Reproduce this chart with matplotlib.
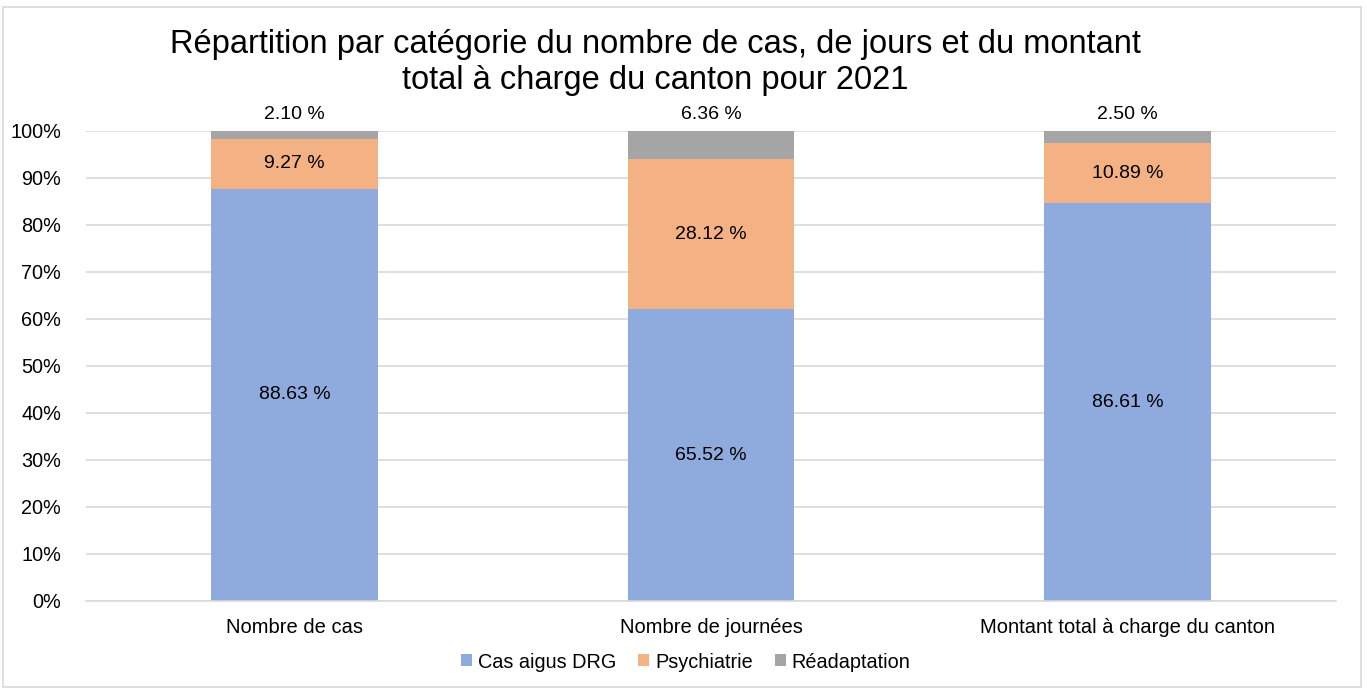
import numpy as np
import matplotlib.pyplot as plt
from matplotlib.patches import Rectangle

plt.rcParams['font.family'] = ['Liberation Sans', 'DejaVu Sans']

# donnees
categories = ['Nombre de cas', 'Nombre de journées', 'Montant total à charge du canton']
series = ['Cas aigus DRG', 'Psychiatrie', 'Réadaptation']
# hauteurs des segments
aigus = [87.66, 62.06, 84.60]
psy = [10.54, 31.94, 12.80]
readapt = [1.80, 6.00, 2.60]
# valeurs affichees dans les etiquettes
lab_aigus = [88.63, 65.52, 86.61]
lab_psy = [9.27, 28.12, 10.89]
lab_readapt = [2.10, 6.36, 2.50]

colors = ['#8FAADC', '#F4B183', '#A5A5A5']

fig = plt.figure(figsize=(13.67, 6.89), dpi=100)
ax = fig.add_axes([86/1367, 1-601/689, 1250/1367, (601-130.7)/689])

x = np.arange(len(categories))
w = 0.40
ax.bar(x, aigus, w, color=colors[0], label=series[0], zorder=2)
ax.bar(x, psy, w, bottom=aigus, color=colors[1], label=series[1], zorder=2)
bot3 = np.array(aigus) + np.array(psy)
ax.bar(x, readapt, w, bottom=bot3, color=colors[2], label=series[2], zorder=2)

#etiquettes
for i in range(len(categories)):
    ax.text(x[i], aigus[i]/2, '%.2f %%' % lab_aigus[i], ha='center', va='center', fontsize=14)
    ax.text(x[i], aigus[i] + psy[i]/2, '%.2f %%' % lab_psy[i], ha='center', va='center', fontsize=14)
    ax.text(x[i], 103.4, '%.2f %%' % lab_readapt[i], ha='center', va='center', fontsize=14)

ax.set_xlim(-0.5, 2.5)
ax.set_ylim(0, 100)
ax.set_yticks(range(0, 101, 10))
ax.set_yticklabels(['%d%%' % v for v in range(0, 101, 10)], fontsize=14.3)
ax.set_xticks(x)
ax.set_xticklabels(categories, fontsize=14.5)
ax.tick_params(axis='both', length=0, colors='#000000')
ax.tick_params(axis='x', pad=12)
ax.tick_params(axis='y', pad=18)
ax.yaxis.grid(True, color='#D9D9D9', linewidth=1.2, zorder=0)
ax.set_axisbelow(True)
for s in ['top', 'right', 'left']:
    ax.spines[s].set_visible(False)
ax.spines['bottom'].set_color('#D9D9D9')
ax.spines['bottom'].set_linewidth(1.2)
ax.spines['bottom'].set_zorder(3)

fig.text(655/1367, 1-45/689, 'Répartition par catégorie du nombre de cas, de jours et du montant',
         ha='center', va='center', fontsize=23.5)
fig.text(655/1367, 1-81/689, 'total à charge du canton pour 2021',
         ha='center', va='center', fontsize=23.5)

ax.legend(loc='center', bbox_to_anchor=(686/1367, 1-662/689), bbox_transform=fig.transFigure,
          ncol=3, frameon=False, fontsize=14.3, handlelength=0.55, handleheight=0.55,
          handletextpad=0.3, columnspacing=1.1)

# cadre
fig.patches.append(Rectangle((3/1367, 2/689), 1358/1367, 680/689, transform=fig.transFigure,
                             fill=False, edgecolor='#D9D9D9', linewidth=1.2))

plt.savefig('out.png', dpi=100)
